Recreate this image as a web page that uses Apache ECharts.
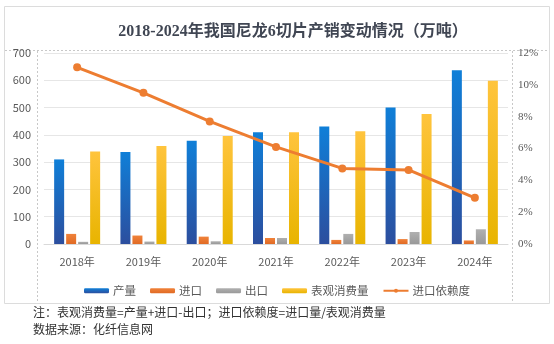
<!DOCTYPE html>
<html>
<head>
<meta charset="utf-8">
<script src="https://cdn.jsdelivr.net/npm/echarts@6/dist/echarts.min.js"></script>
<style>
  html, body { margin: 0; padding: 0; background: #fff; }
  #chart { width: 554px; height: 344px; }
</style>
</head>
<body>
<div id="chart"></div>
<script>
// 尼龙6切片产销数据（万吨）
const years = ['2018年', '2019年', '2020年', '2021年', '2022年', '2023年', '2024年'];
const production = [310, 337, 378, 410, 431, 500, 637];
const imports = [37, 31, 27, 22, 15, 18, 13];
const exports_ = [8, 9, 10, 22, 37, 44, 54];
const consumption = [339, 359, 396, 410, 413, 476, 598];
const dependence = [11.1, 9.5, 7.7, 6.1, 4.75, 4.65, 2.9];
const leftTicks = [0, 100, 200, 300, 400, 500, 600, 700];

const cjk = '"Noto Sans CJK SC", "Noto Sans", sans-serif';
const grad = (top, bottom) => new echarts.graphic.LinearGradient(0, 0, 0, 1, [
  { offset: 0, color: top }, { offset: 1, color: bottom }
]);

const chart = echarts.init(document.getElementById('chart'));
chart.setOption({
  animation: false,
  backgroundColor: '#fff',
  title: {
    text: '2018-2024年我国尼龙6切片产销变动情况（万吨）',
    left: 288,
    textAlign: 'center',
    top: 19,
    textStyle: {
      fontFamily: '"Liberation Serif", "Noto Sans CJK SC", serif',
      fontSize: 16,
      fontWeight: 'bold',
      color: '#404653'
    }
  },
  graphic: [
    { type: 'rect', shape: { x: 4.5, y: 6.5, width: 545, height: 297 },
      style: { fill: 'none', stroke: '#dcdcdc', lineWidth: 1 }, silent: true },
    { type: 'line', shape: { x1: 5, y1: 50.5, x2: 549, y2: 50.5 },
      style: { stroke: '#c8c8c8', lineWidth: 1, lineDash: [2, 2] }, silent: true },
    { type: 'line', shape: { x1: 37.5, y1: 51, x2: 37.5, y2: 303 },
      style: { stroke: '#c8c8c8', lineWidth: 1, lineDash: [2, 2] }, silent: true },
    { type: 'line', shape: { x1: 512.5, y1: 51, x2: 512.5, y2: 303 },
      style: { stroke: '#c8c8c8', lineWidth: 1, lineDash: [2, 2] }, silent: true },
    { type: 'text', left: 33, top: 304,
      style: { text: '注：表观消费量=产量+进口-出口；进口依赖度=进口量/表观消费量\n数据来源：化纤信息网',
        font: '12px "Noto Sans CJK SC"', fill: '#333', lineHeight: 17 } }
  ],
  legend: {
    top: 280,
    left: 'center',
    itemWidth: 25,
    itemHeight: 5,
    itemGap: 14,
    textStyle: { fontFamily: cjk, fontSize: 11.5, color: '#595959', padding: [0, 0, 0, -1] },
    data: ['产量', '进口', '出口', '表观消费量', '进口依赖度']
  },
  grid: { left: 44, right: 46, top: 53, bottom: 100 },
  xAxis: {
    type: 'category',
    data: years,
    axisLine: { lineStyle: { color: '#d9d9d9' } },
    axisTick: { show: false },
    axisLabel: { fontFamily: cjk, fontSize: 11, color: '#595959', margin: 12 }
  },
  yAxis: [
    {
      type: 'value', min: leftTicks[0], max: leftTicks[leftTicks.length - 1], interval: 100,
      axisLine: { show: false }, axisTick: { show: false },
      axisLabel: { fontFamily: cjk, fontSize: 11, color: '#595959', margin: 13 },
      splitLine: { lineStyle: { color: '#e6e6e6' } }
    },
    {
      type: 'value', min: 0, max: 12, interval: 2,
      axisLine: { show: false }, axisTick: { show: false },
      axisLabel: { fontFamily: '"Liberation Serif", serif', fontSize: 11, color: '#595959', margin: 10,
        formatter: '{value}%' },
      splitLine: { show: false }
    }
  ],
  series: [
    { name: '产量', type: 'bar', data: production, barWidth: 10, barGap: '20%',
      itemStyle: { color: grad('#0f7fd8', '#2c4e9e') } },
    { name: '进口', type: 'bar', data: imports, barWidth: 10, barGap: '20%',
      itemStyle: { color: grad('#f0823a', '#e06a24') } },
    { name: '出口', type: 'bar', data: exports_, barWidth: 10, barGap: '20%',
      itemStyle: { color: grad('#b0b0b0', '#999999') } },
    { name: '表观消费量', type: 'bar', data: consumption, barWidth: 10, barGap: '20%',
      itemStyle: { color: grad('#ffc43d', '#e8b400') } },
    { name: '进口依赖度', type: 'line', yAxisIndex: 1, data: dependence,
      symbol: 'circle', symbolSize: 8,
      lineStyle: { color: '#ed7d31', width: 3 },
      itemStyle: { color: '#ed7d31' } }
  ]
});
</script>
</body>
</html>
